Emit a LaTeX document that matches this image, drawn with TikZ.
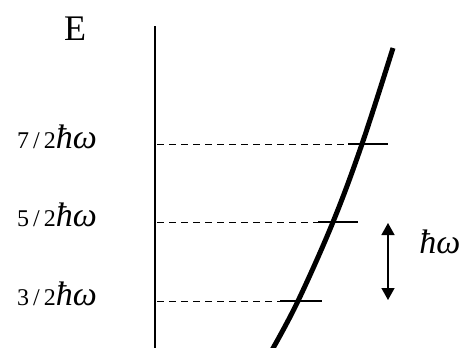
\documentclass[tikz,border=0pt]{standalone}
\usepackage{fontspec}
\setmainfont{Liberation Serif}
\usepackage{tikz}
\usetikzlibrary{arrows.meta, positioning}
\newcommand{\hw}{{\itshape ħω}}
\tikzset{
  levelline/.style={dash pattern=on 7pt off 5pt, line width=0.8pt, black},
  leveltick/.style={line width=1.4pt, black},
  levellabel/.style={anchor=base, inner sep=0pt, font=\fontsize{34}{38}\selectfont},
  potcurve/.style={line width=5pt, black},
  gaparrow/.style={{Triangle[length=12pt,width=13pt]}-{Triangle[length=12pt,width=13pt]}, line width=1.4pt},
}

\begin{document}
\begin{tikzpicture}[x=1pt, y=-1pt]
  \useasboundingbox (0,0) rectangle (464,348);
  % energy axis
  \coordinate (axtop) at (155,26);
  \coordinate (axbot) at (155,348);
  \draw[line width=2pt] (axtop) -- (axbot);
  \node[anchor=base, inner sep=0pt, font=\fontsize{36}{40}\selectfont] (elab) at (75,40) {E};
  % potential curve
  \draw[potcurve] plot[smooth, tension=0.6] coordinates {(272,350) (298,301) (333,222) (362,144) (393,48)};
  % levels
  \foreach \n/\y/\xa/\xb/\xc in {7/144/350/348/388, 5/222/318/318/358, 3/301/282/280/322} {
    \coordinate (d\n) at (157,\y);
    \coordinate (e\n) at (\xa,\y);
    \coordinate (ta\n) at (\xb,\y);
    \coordinate (tb\n) at (\xc,\y);
    \draw[levelline] (d\n) -- (e\n);
    \draw[leveltick] (ta\n) -- (tb\n);
    \node[levellabel] (l\n) at (57,\y+4) {{\fontsize{24}{26}\selectfont\n\,/\,2}\hw};
  }
  % spacing arrow
  \coordinate (atop) at (388,223);
  \coordinate (abot) at (388,300);
  \draw[gaparrow] (atop) -- (abot);
  \node[levellabel] (hw) at (440,253) {\hw};
\end{tikzpicture}
\end{document}
